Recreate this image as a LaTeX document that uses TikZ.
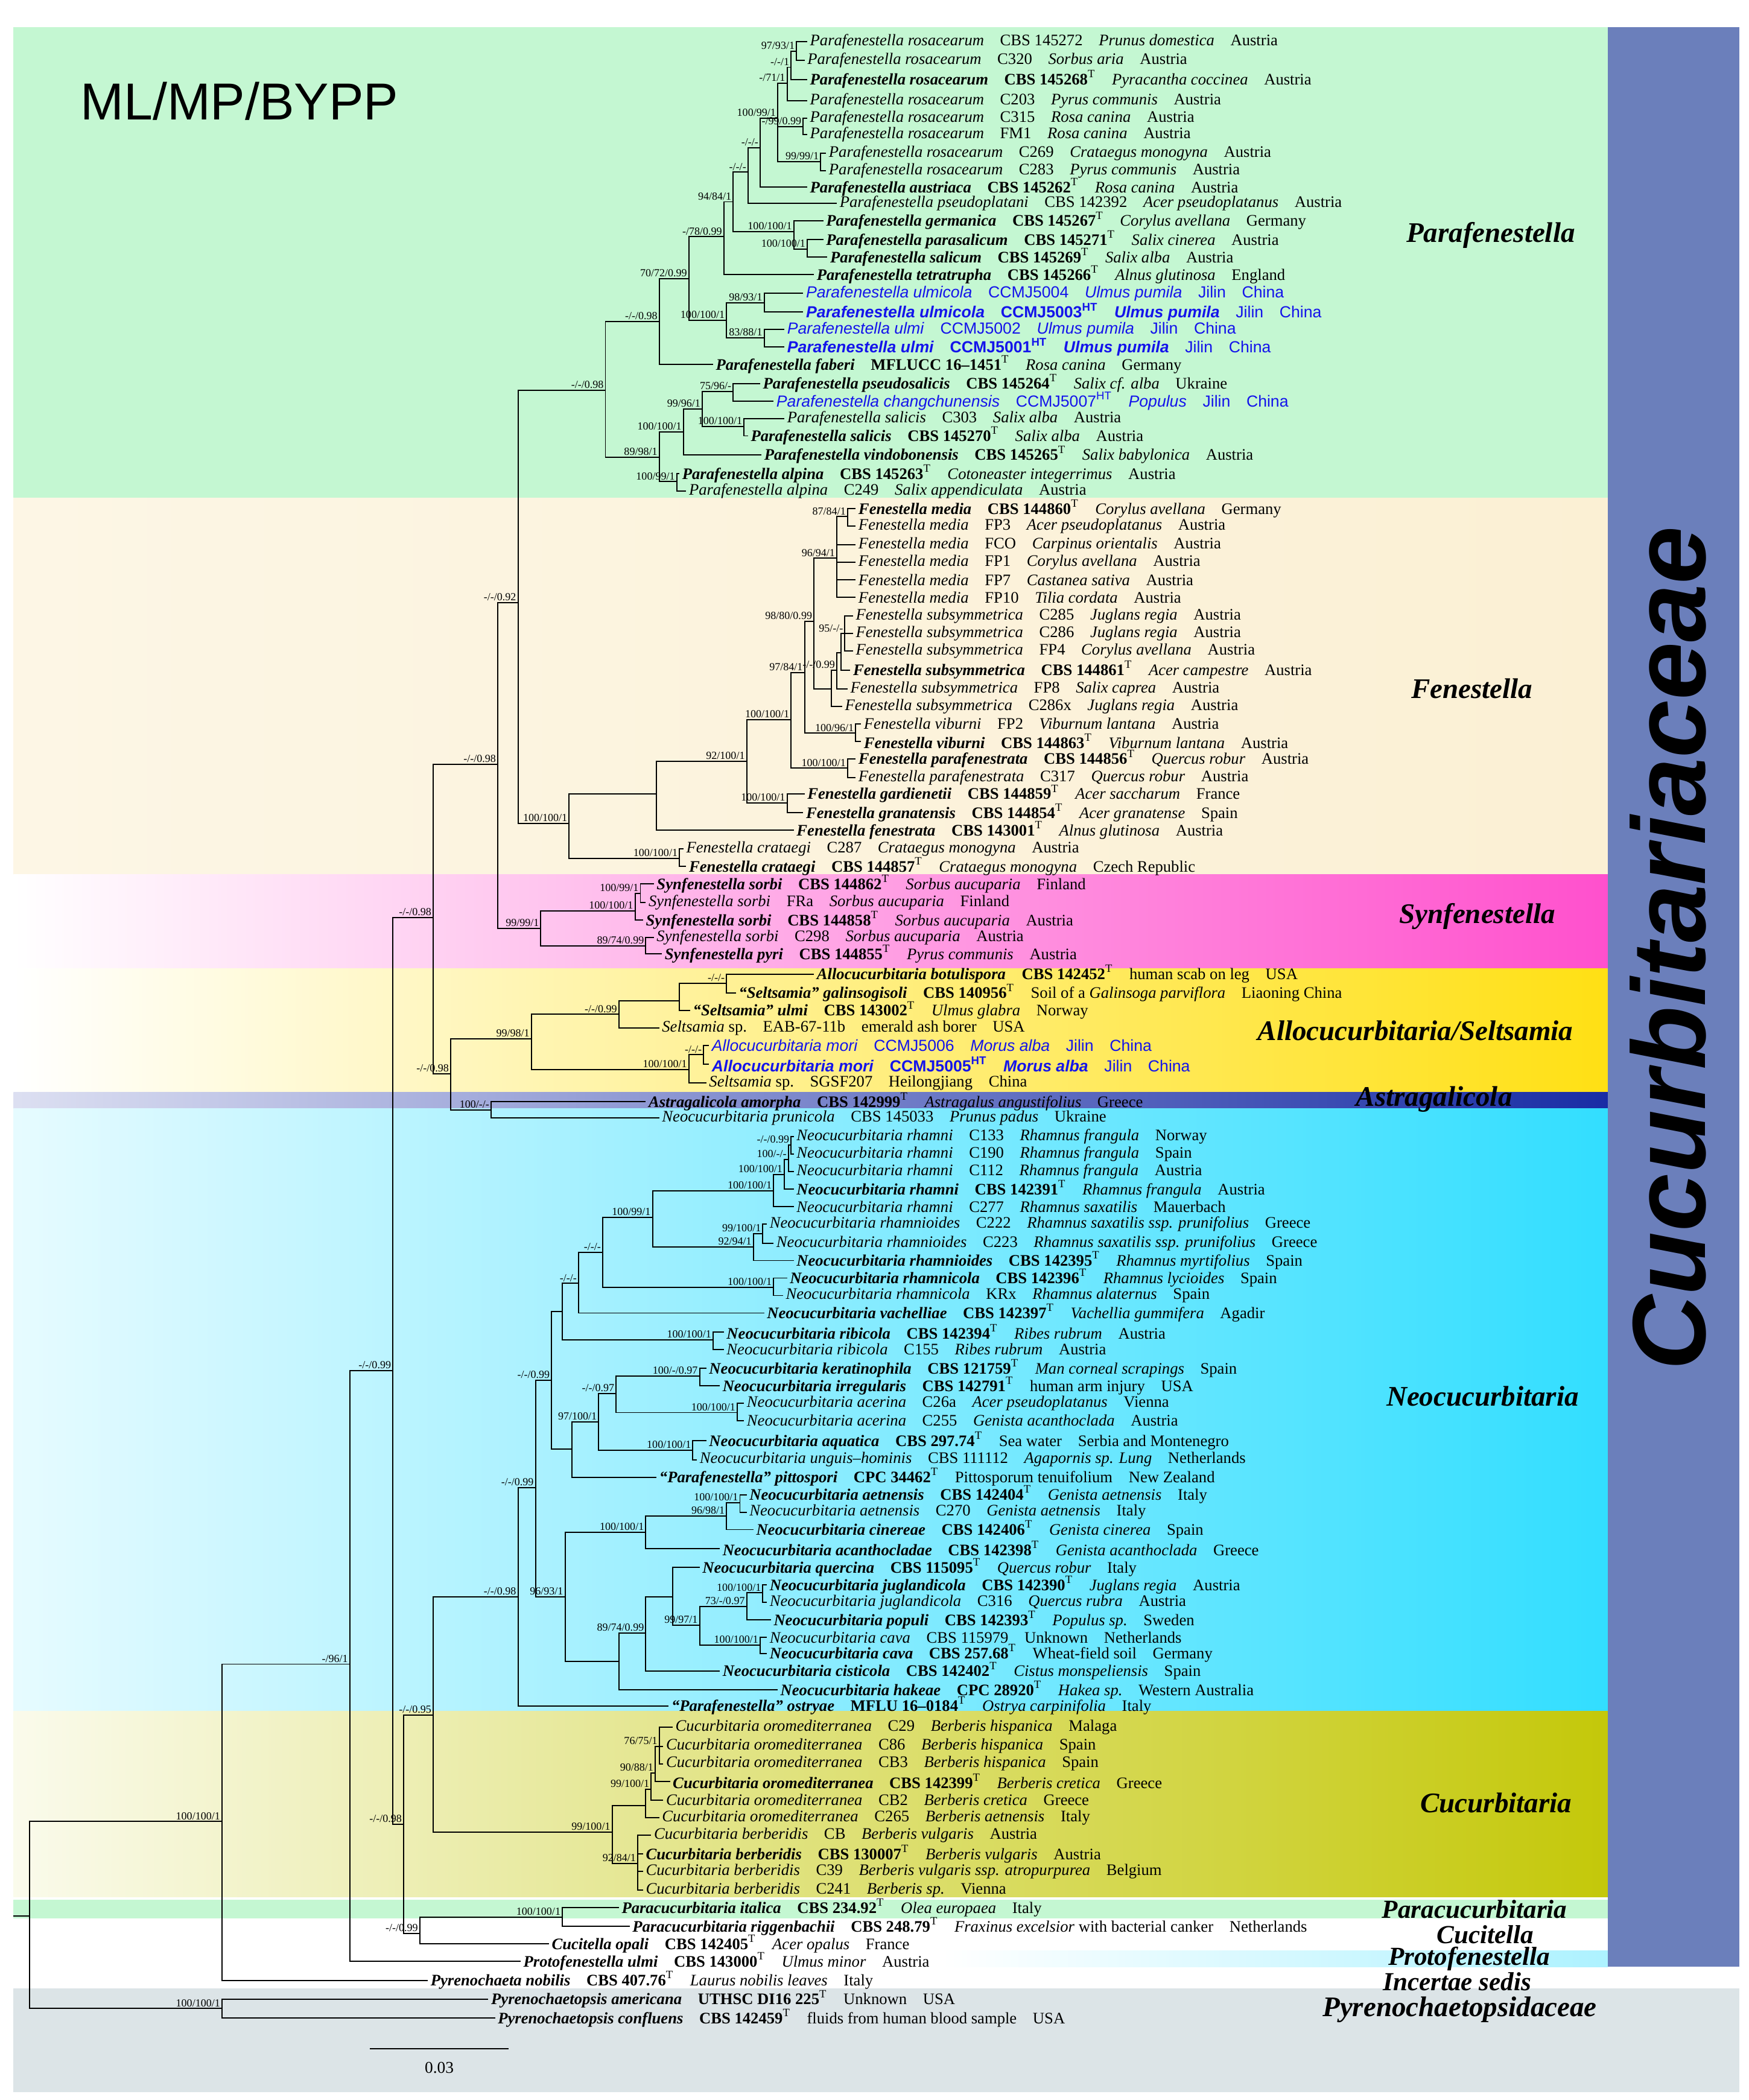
\documentclass[tikz,border=0pt]{standalone}
\usepackage{fontspec}
\setmainfont{Liberation Serif}
\setsansfont{Liberation Sans}
\usetikzlibrary{positioning}

\definecolor{clblue}{RGB}{20,20,235}
\definecolor{barblue}{RGB}{107,127,187}
\definecolor{paragreen}{RGB}{196,247,210}
\definecolor{fenbeige}{RGB}{251,240,212}
\definecolor{synpink}{RGB}{255,80,205}
\definecolor{alloyellow}{RGB}{255,224,20}
\definecolor{astblue}{RGB}{25,45,165}
\definecolor{neocyan}{RGB}{50,222,255}
\definecolor{cucolive}{RGB}{196,200,10}
\definecolor{pyrgrey}{RGB}{220,228,231}

\newcommand{\gp}{\hspace{1em}}
\newcommand{\sT}{\textsuperscript{T}}
\newcommand{\nmi}[1]{\textit{#1}}
\newcommand{\nmb}[1]{\textbf{\textit{#1}}}
\newcommand{\hst}[1]{\textit{#1}}
% normal and bold (type) leaves
\newcommand{\nl}[4]{\nmi{#1}\gp #2\gp\hst{#3}\gp #4}
\newcommand{\bl}[4]{\nmb{#1}\gp\textbf{#2}\sT\gp\hst{#3}\gp #4}
% blue leaves from this study
\newcommand{\bnl}[3]{{\sffamily\color{clblue}\nmi{#1}\gp #2\gp\hst{#3}\gp Jilin\gp China}}
\newcommand{\bbl}[3]{{\sffamily\color{clblue}\nmb{#1}\gp\textbf{#2}\textsuperscript{\textbf{HT}}\gp\nmb{#3}\gp Jilin\gp China}}
\newcommand{\lf}[4]{\coordinate (#1) at (#2,-#3); \node[leaf] (#1t) at (#1) {#4};}
\newcommand{\nd}[4]{\coordinate (#1) at (#2,-#3); \node[bsup] at (#1) {#4};}

\tikzset{
  leaf/.style={anchor=west, inner sep=1pt, font=\fontsize{6.8}{7}\selectfont},
  bsup/.style={anchor=south east, inner sep=0.6pt, font=\fontsize{4.6}{5}\selectfont},
  branch/.style={line width=0.5pt},
  clade/.style={font=\fontsize{12}{13}\selectfont\bfseries\itshape},
  sclade/.style={font=\fontsize{11}{11}\selectfont\bfseries\itshape},
}

\begin{document}
\begin{tikzpicture}[x=0.02cm, y=0.02cm]
\useasboundingbox (0,0) rectangle (1300,-1561);

% background bands
\fill[paragreen] (10,-20) rectangle (1195,-370);
\shade[left color=fenbeige!60, right color=fenbeige] (10,-370) rectangle (1195,-650);
\shade[left color=white, right color=synpink] (10,-650) rectangle (1195,-720);
\shade[left color=white, right color=alloyellow] (10,-720) rectangle (1195,-812);
\shade[left color=astblue!15, right color=astblue] (10,-812) rectangle (1195,-824);
\shade[left color=neocyan!12, right color=neocyan] (10,-824) rectangle (1195,-1272);
\shade[left color=cucolive!8, right color=cucolive] (10,-1272) rectangle (1195,-1410);
\fill[paragreen] (10,-1412) rectangle (1195,-1426);
\shade[left color=white, right color=neocyan!40] (700,-1450) rectangle (1195,-1462);
\fill[pyrgrey] (10,-1478) rectangle (1293,-1555);
\fill[barblue] (1195,-20) rectangle (1293,-1462);
\node[rotate=90, font=\fontsize{44}{44}\sffamily\bfseries\itshape] (fam) at (1240,-705) {Cucurbitariaceae};
\node[font=\fontsize{22}{22}\sffamily] (title) at (178,-75) {ML/MP/BYPP};

% leaves
\lf{l1}{600}{31}{\nl{Parafenestella rosacearum}{CBS 145272}{Prunus domestica}{Austria}}
\lf{l2}{598}{45}{\nl{Parafenestella rosacearum}{C320}{Sorbus aria}{Austria}}
\lf{l3}{600}{59}{\bl{Parafenestella rosacearum}{CBS 145268}{Pyracantha coccinea}{Austria}}
\lf{l4}{600}{75}{\nl{Parafenestella rosacearum}{C203}{Pyrus communis}{Austria}}
\lf{l5}{600}{88}{\nl{Parafenestella rosacearum}{C315}{Rosa canina}{Austria}}
\lf{l6}{600}{100}{\nl{Parafenestella rosacearum}{FM1}{Rosa canina}{Austria}}
\lf{l7}{614}{114}{\nl{Parafenestella rosacearum}{C269}{Crataegus monogyna}{Austria}}
\lf{l8}{614}{127}{\nl{Parafenestella rosacearum}{C283}{Pyrus communis}{Austria}}
\lf{l9}{600}{139}{\bl{Parafenestella austriaca}{CBS 145262}{Rosa canina}{Austria}}
\lf{l10}{622}{151}{\nl{Parafenestella pseudoplatani}{CBS 142392}{Acer pseudoplatanus}{Austria}}
\lf{l11}{612}{164}{\bl{Parafenestella germanica}{CBS 145267}{Corylus avellana}{Germany}}
\lf{l12}{612}{178}{\bl{Parafenestella parasalicum}{CBS 145271}{Salix cinerea}{Austria}}
\lf{l13}{615}{191}{\bl{Parafenestella salicum}{CBS 145269}{Salix alba}{Austria}}
\lf{l14}{605}{204}{\bl{Parafenestella tetratrupha}{CBS 145266}{Alnus glutinosa}{England}}
\lf{l15}{597}{218}{\bnl{Parafenestella ulmicola}{CCMJ5004}{Ulmus pumila}}
\lf{l16}{597}{232}{\bbl{Parafenestella ulmicola}{CCMJ5003}{Ulmus pumila}}
\lf{l17}{583}{245}{\bnl{Parafenestella ulmi}{CCMJ5002}{Ulmus pumila}}
\lf{l18}{583}{258}{\bbl{Parafenestella ulmi}{CCMJ5001}{Ulmus pumila}}
\lf{l19}{530}{271}{\bl{Parafenestella faberi}{MFLUCC 16--1451}{Rosa canina}{Germany}}
\lf{l20}{565}{285}{\bl{Parafenestella pseudosalicis}{CBS 145264}{Salix cf. alba}{Ukraine}}
\lf{l21}{575}{298}{\bnl{Parafenestella changchunensis}{CCMJ5007\textsuperscript{HT}}{Populus}}
\lf{l22}{583}{311}{\nl{Parafenestella salicis}{C303}{Salix alba}{Austria}}
\lf{l23}{556}{324}{\bl{Parafenestella salicis}{CBS 145270}{Salix alba}{Austria}}
\lf{l24}{566}{338}{\bl{Parafenestella vindobonensis}{CBS 145265}{Salix babylonica}{Austria}}
\lf{l25}{505}{352}{\bl{Parafenestella alpina}{CBS 145263}{Cotoneaster integerrimus}{Austria}}
\lf{l26}{510}{365}{\nl{Parafenestella alpina}{C249}{Salix appendiculata}{Austria}}
\lf{l27}{636}{378}{\bl{Fenestella media}{CBS 144860}{Corylus avellana}{Germany}}
\lf{l28}{636}{391}{\nl{Fenestella media}{FP3}{Acer pseudoplatanus}{Austria}}
\lf{l29}{636}{405}{\nl{Fenestella media}{FCO}{Carpinus orientalis}{Austria}}
\lf{l30}{636}{418}{\nl{Fenestella media}{FP1}{Corylus avellana}{Austria}}
\lf{l31}{636}{431}{\nl{Fenestella media}{FP7}{Castanea sativa}{Austria}}
\lf{l32}{636}{444}{\nl{Fenestella media}{FP10}{Tilia cordata}{Austria}}
\lf{l33}{634}{458}{\nl{Fenestella subsymmetrica}{C285}{Juglans regia}{Austria}}
\lf{l34}{634}{471}{\nl{Fenestella subsymmetrica}{C286}{Juglans regia}{Austria}}
\lf{l35}{634}{484}{\nl{Fenestella subsymmetrica}{FP4}{Corylus avellana}{Austria}}
\lf{l36}{632}{498}{\bl{Fenestella subsymmetrica}{CBS 144861}{Acer campestre}{Austria}}
\lf{l37}{630}{512}{\nl{Fenestella subsymmetrica}{FP8}{Salix caprea}{Austria}}
\lf{l38}{626}{525}{\nl{Fenestella subsymmetrica}{C286x}{Juglans regia}{Austria}}
\lf{l39}{640}{538}{\nl{Fenestella viburni}{FP2}{Viburnum lantana}{Austria}}
\lf{l40}{640}{551}{\bl{Fenestella viburni}{CBS 144863}{Viburnum lantana}{Austria}}
\lf{l41}{636}{564}{\bl{Fenestella parafenestrata}{CBS 144856}{Quercus robur}{Austria}}
\lf{l42}{636}{578}{\nl{Fenestella parafenestrata}{C317}{Quercus robur}{Austria}}
\lf{l43}{598}{590}{\bl{Fenestella gardienetii}{CBS 144859}{Acer saccharum}{France}}
\lf{l44}{597}{604}{\bl{Fenestella granatensis}{CBS 144854}{Acer granatense}{Spain}}
\lf{l45}{590}{617}{\bl{Fenestella fenestrata}{CBS 143001}{Alnus glutinosa}{Austria}}
\lf{l46}{508}{631}{\nl{Fenestella crataegi}{C287}{Crataegus monogyna}{Austria}}
\lf{l47}{510}{644}{\bl{Fenestella crataegi}{CBS 144857}{Crataegus monogyna}{Czech Republic}}
\lf{l48}{486}{657}{\bl{Synfenestella sorbi}{CBS 144862}{Sorbus aucuparia}{Finland}}
\lf{l49}{480}{671}{\nl{Synfenestella sorbi}{FRa}{Sorbus aucuparia}{Finland}}
\lf{l50}{478}{684}{\bl{Synfenestella sorbi}{CBS 144858}{Sorbus aucuparia}{Austria}}
\lf{l51}{486}{697}{\nl{Synfenestella sorbi}{C298}{Sorbus aucuparia}{Austria}}
\lf{l52}{492}{709}{\bl{Synfenestella pyri}{CBS 144855}{Pyrus communis}{Austria}}
\lf{l53}{605}{724}{\bl{Allocucurbitaria botulispora}{CBS 142452}{\textup{human scab on leg}}{USA}}
\lf{l54}{547}{738}{\bl{``Seltsamia'' galinsogisoli}{CBS 140956}{\textup{Soil of a} Galinsoga parviflora}{Liaoning China}}
\lf{l55}{513}{751}{\bl{``Seltsamia'' ulmi}{CBS 143002}{Ulmus glabra}{Norway}}
\lf{l56}{490}{764}{\nmi{Seltsamia} sp.\gp EAB-67-11b\gp emerald ash borer\gp USA}
\lf{l57}{527}{777}{\bnl{Allocucurbitaria mori}{CCMJ5006}{Morus alba}}
\lf{l58}{527}{791}{\bbl{Allocucurbitaria mori}{CCMJ5005}{Morus alba}}
\lf{l59}{525}{805}{\nmi{Seltsamia} sp.\gp SGSF207\gp Heilongjiang\gp China}
\lf{l60}{480}{819}{\bl{Astragalicola amorpha}{CBS 142999}{Astragalus angustifolius}{Greece}}
\lf{l61}{490}{831}{\nl{Neocucurbitaria prunicola}{CBS 145033}{Prunus padus}{Ukraine}}
\lf{l62}{590}{845}{\nl{Neocucurbitaria rhamni}{C133}{Rhamnus frangula}{Norway}}
\lf{l63}{590}{858}{\nl{Neocucurbitaria rhamni}{C190}{Rhamnus frangula}{Spain}}
\lf{l64}{590}{871}{\nl{Neocucurbitaria rhamni}{C112}{Rhamnus frangula}{Austria}}
\lf{l65}{590}{884}{\bl{Neocucurbitaria rhamni}{CBS 142391}{Rhamnus frangula}{Austria}}
\lf{l66}{590}{897}{\nl{Neocucurbitaria rhamni}{C277}{Rhamnus saxatilis}{Mauerbach}}
\lf{l67}{570}{910}{\nl{Neocucurbitaria rhamnioides}{C222}{Rhamnus saxatilis ssp. prunifolius}{Greece}}
\lf{l68}{575}{924}{\nl{Neocucurbitaria rhamnioides}{C223}{Rhamnus saxatilis ssp. prunifolius}{Greece}}
\lf{l69}{590}{937}{\bl{Neocucurbitaria rhamnioides}{CBS 142395}{Rhamnus myrtifolius}{Spain}}
\lf{l70}{585}{950}{\bl{Neocucurbitaria rhamnicola}{CBS 142396}{Rhamnus lycioides}{Spain}}
\lf{l71}{582}{963}{\nl{Neocucurbitaria rhamnicola}{KRx}{Rhamnus alaternus}{Spain}}
\lf{l72}{568}{976}{\bl{Neocucurbitaria vachelliae}{CBS 142397}{Vachellia gummifera}{Agadir}}
\lf{l73}{538}{990}{\bl{Neocucurbitaria ribicola}{CBS 142394}{Ribes rubrum}{Austria}}
\lf{l74}{538}{1003}{\nl{Neocucurbitaria ribicola}{C155}{Ribes rubrum}{Austria}}
\lf{l75}{525}{1017}{\bl{Neocucurbitaria keratinophila}{CBS 121759}{Man corneal scrapings}{Spain}}
\lf{l76}{535}{1030}{\bl{Neocucurbitaria irregularis}{CBS 142791}{\textup{human arm injury}}{USA}}
\lf{l77}{553}{1043}{\nl{Neocucurbitaria acerina}{C26a}{Acer pseudoplatanus}{Vienna}}
\lf{l78}{553}{1056}{\nl{Neocucurbitaria acerina}{C255}{Genista acanthoclada}{Austria}}
\lf{l79}{525}{1071}{\bl{Neocucurbitaria aquatica}{CBS 297.74}{\textup{Sea water}}{Serbia and Montenegro}}
\lf{l80}{518}{1085}{\nl{Neocucurbitaria unguis--hominis}{CBS 111112}{Agapornis sp. Lung}{Netherlands}}
\lf{l81}{488}{1098}{\bl{``Parafenestella'' pittospori}{CPC 34462}{\textup{Pittosporum tenuifolium}}{New Zealand}}
\lf{l82}{555}{1111}{\bl{Neocucurbitaria aetnensis}{CBS 142404}{Genista aetnensis}{Italy}}
\lf{l83}{555}{1124}{\nl{Neocucurbitaria aetnensis}{C270}{Genista aetnensis}{Italy}}
\lf{l84}{560}{1137}{\bl{Neocucurbitaria cinereae}{CBS 142406}{Genista cinerea}{Spain}}
\lf{l85}{535}{1151}{\bl{Neocucurbitaria acanthocladae}{CBS 142398}{Genista acanthoclada}{Greece}}
\lf{l86}{520}{1165}{\bl{Neocucurbitaria quercina}{CBS 115095}{Quercus robur}{Italy}}
\lf{l87}{570}{1178}{\bl{Neocucurbitaria juglandicola}{CBS 142390}{Juglans regia}{Austria}}
\lf{l88}{570}{1191}{\nl{Neocucurbitaria juglandicola}{C316}{Quercus rubra}{Austria}}
\lf{l89}{573}{1204}{\bl{Neocucurbitaria populi}{CBS 142393}{Populus sp.}{Sweden}}
\lf{l90}{570}{1217}{\nl{Neocucurbitaria cava}{CBS 115979}{\textup{Unknown}}{Netherlands}}
\lf{l91}{570}{1229}{\bl{Neocucurbitaria cava}{CBS 257.68}{\textup{Wheat-field soil}}{Germany}}
\lf{l92}{535}{1242}{\bl{Neocucurbitaria cisticola}{CBS 142402}{Cistus monspeliensis}{Spain}}
\lf{l93}{578}{1256}{\bl{Neocucurbitaria hakeae}{CPC 28920}{Hakea sp.}{Western Australia}}
\lf{l94}{497}{1268}{\bl{``Parafenestella'' ostryae}{MFLU 16--0184}{Ostrya carpinifolia}{Italy}}
\lf{l95}{500}{1284}{\nl{Cucurbitaria oromediterranea}{C29}{Berberis hispanica}{Malaga}}
\lf{l96}{493}{1298}{\nl{Cucurbitaria oromediterranea}{C86}{Berberis hispanica}{Spain}}
\lf{l97}{493}{1311}{\nl{Cucurbitaria oromediterranea}{CB3}{Berberis hispanica}{Spain}}
\lf{l98}{498}{1324}{\bl{Cucurbitaria oromediterranea}{CBS 142399}{Berberis cretica}{Greece}}
\lf{l99}{493}{1338}{\nl{Cucurbitaria oromediterranea}{CB2}{Berberis cretica}{Greece}}
\lf{l100}{490}{1351}{\nl{Cucurbitaria oromediterranea}{C265}{Berberis aetnensis}{Italy}}
\lf{l101}{484}{1364}{\nl{Cucurbitaria berberidis}{CB}{Berberis vulgaris}{Austria}}
\lf{l102}{478}{1378}{\bl{Cucurbitaria berberidis}{CBS 130007}{Berberis vulgaris}{Austria}}
\lf{l103}{478}{1391}{\nl{Cucurbitaria berberidis}{C39}{Berberis vulgaris ssp. atropurpurea}{Belgium}}
\lf{l104}{478}{1405}{\nl{Cucurbitaria berberidis}{C241}{Berberis sp.}{Vienna}}
\lf{l105}{460}{1418}{\bl{Paracucurbitaria italica}{CBS 234.92}{Olea europaea}{Italy}}
\lf{l106}{468}{1432}{\bl{Paracucurbitaria riggenbachii}{CBS 248.79}{Fraxinus excelsior \textup{with bacterial canker}}{Netherlands}}
\lf{l107}{408}{1445}{\bl{Cucitella opali}{CBS 142405}{Acer opalus}{France}}
\lf{l108}{387}{1458}{\bl{Protofenestella ulmi}{CBS 143000}{Ulmus minor}{Austria}}
\lf{l109}{318}{1472}{\bl{Pyrenochaeta nobilis}{CBS 407.76}{Laurus nobilis leaves}{Italy}}
\lf{l110}{363}{1486}{\bl{Pyrenochaetopsis americana}{UTHSC DI16 225}{\textup{Unknown}}{USA}}
\lf{l111}{368}{1500}{\bl{Pyrenochaetopsis confluens}{CBS 142459}{\textup{fluids from human blood sample}}{USA}}

% internal nodes
\nd{pr1}{592}{38}{97/93/1}
\nd{pr2}{588}{50}{-/-/1}
\nd{pr3}{585}{62}{-/71/1}
\nd{pr4}{597}{94}{-/99/0.99}
\nd{pr5}{610}{120}{99/99/1}
\nd{pr6}{578}{88}{100/99/1}
\nd{pr7}{565}{110}{-/-/-}
\nd{pr8}{556}{128}{-/-/-}
\nd{ps1}{600}{185}{100/100/1}
\nd{ps2}{590}{172}{100/100/1}
\nd{ps3}{545}{150}{94/84/1}
\nd{ps4}{538}{176}{-/78/0.99}
\nd{u1}{568}{225}{98/93/1}
\nd{u2}{568}{251}{83/88/1}
\nd{u3}{540}{238}{100/100/1}
\nd{u4}{512}{207}{70/72/0.99}
\nd{u5}{490}{239}{-/-/0.98}
\nd{s1}{545}{291}{75/96/-}
\nd{s2}{553}{317}{100/100/1}
\nd{s3}{522}{304}{99/96/1}
\nd{s4}{508}{321}{100/100/1}
\nd{a1}{503}{358}{100/99/1}
\nd{s5}{490}{340}{89/98/1}
\nd{P}{450}{290}{-/-/0.98}
\nd{m0}{630}{384}{87/84/1}
\nd{m1}{622}{415}{96/94/1}
\nd{sb1}{628}{471}{95/-/-}
\nd{sb2}{625}{485}{}
\nd{sb3}{622}{498}{-/-/0.99}
\nd{sb4}{618}{512}{}
\nd{f1}{605}{462}{98/80/0.99}
\nd{v1}{636}{545}{100/96/1}
\nd{f2}{598}{500}{97/84/1}
\nd{pf1}{630}{571}{100/100/1}
\nd{f3}{588}{535}{100/100/1}
\nd{g1}{585}{597}{100/100/1}
\nd{f4}{555}{566}{92/100/1}
\nd{f5}{488}{590}{}
\nd{cr1}{505}{638}{100/100/1}
\nd{f6}{423}{612}{100/100/1}
\nd{PF}{385}{448}{-/-/0.92}
\nd{sy1}{476}{664}{100/99/1}
\nd{sy2}{472}{677}{100/100/1}
\nd{sy3}{480}{703}{89/74/0.99}
\nd{sy4}{402}{690}{99/99/1}
\nd{PFS}{370}{568}{-/-/0.98}
\nd{se1}{540}{731}{-/-/-}
\nd{se2}{505}{744}{}
\nd{se3}{460}{754}{-/-/0.99}
\nd{al1}{523}{784}{-/-/-}
\nd{al2}{512}{795}{100/100/1}
\nd{al3}{395}{772}{99/98/1}
\nd{ast}{365}{825}{100/-/-}
\nd{AA}{335}{798}{-/-/0.98}
\nd{D}{322}{682}{-/-/0.98}
\nd{rh1}{588}{851}{-/-/0.99}
\nd{rh2}{586}{862}{100/-/-}
\nd{rh3}{583}{873}{100/100/1}
\nd{rh4}{575}{885}{100/100/1}
\nd{rd1}{567}{917}{99/100/1}
\nd{rd2}{560}{927}{92/94/1}
\nd{rc1}{575}{957}{100/100/1}
\nd{rr1}{485}{905}{100/99/1}
\nd{rr2}{448}{931}{-/-/-}
\nd{rr3}{430}{954}{-/-/-}
\nd{rb1}{530}{996}{100/100/1}
\nd{rr4}{418}{975}{}
\nd{k1}{520}{1023}{100/-/0.97}
\nd{ac1}{548}{1050}{100/100/1}
\nd{k2}{458}{1036}{-/-/0.97}
\nd{aq1}{515}{1078}{100/100/1}
\nd{k3}{445}{1057}{97/100/1}
\nd{k4}{425}{1077}{}
\nd{nA}{410}{1026}{-/-/0.99}
\nd{ae1}{550}{1117}{100/100/1}
\nd{ae2}{540}{1127}{96/98/1}
\nd{ae3}{480}{1139}{100/100/1}
\nd{jg1}{567}{1184}{100/100/1}
\nd{po1}{555}{1194}{73/-/0.97}
\nd{cv1}{565}{1223}{100/100/1}
\nd{pc1}{520}{1208}{99/97/1}
\nd{q1}{500}{1187}{}
\nd{ci1}{480}{1214}{89/74/0.99}
\nd{hk1}{460}{1235}{}
\nd{nB}{420}{1187}{96/93/1}
\nd{nC}{398}{1106}{-/-/0.99}
\nd{Neo}{385}{1187}{-/-/0.98}
\nd{co1}{490}{1298}{76/75/1}
\nd{co2}{487}{1318}{90/88/1}
\nd{co3}{484}{1330}{99/100/1}
\nd{co4}{480}{1342}{}
\nd{cb1}{474}{1385}{92/84/1}
\nd{cu}{455}{1362}{99/100/1}
\nd{H}{322}{1275}{-/-/0.95}
\nd{pa}{418}{1425}{100/100/1}
\nd{G}{312}{1437}{-/-/0.99}
\nd{E}{300}{1356}{-/-/0.98}
\nd{C}{292}{1019}{-/-/0.99}
\nd{B}{260}{1237}{-/96/1}
\nd{A}{165}{1354}{100/100/1}
\nd{Py}{165}{1493}{100/100/1}
\nd{R}{22}{1424}{}

% branches
\foreach \p/\c in {pr1/l1,pr1/l2,pr2/pr1,pr2/l3,pr3/pr2,pr3/l4,pr4/l5,pr4/l6,pr5/l7,pr5/l8,
  pr6/pr3,pr6/pr4,pr6/pr5,pr7/pr6,pr7/l9,pr8/pr7,pr8/l10,ps1/l12,ps1/l13,ps2/l11,ps2/ps1,
  ps3/pr8,ps3/ps2,ps4/ps3,ps4/l14,u1/l15,u1/l16,u2/l17,u2/l18,u3/u1,u3/u2,u4/ps4,u4/u3,
  u5/u4,u5/l19,s1/l20,s1/l21,s2/l22,s2/l23,s3/s1,s3/s2,s4/s3,s4/l24,a1/l25,a1/l26,s5/s4,s5/a1,
  P/u5,P/s5,m0/l27,m0/l28,m1/m0,m1/l29,m1/l30,m1/l31,m1/l32,sb1/l33,sb1/l34,sb1/l35,
  sb2/sb1,sb2/l36,sb3/sb2,sb3/l37,sb4/sb3,sb4/l38,f1/m1,f1/sb4,v1/l39,v1/l40,f2/f1,f2/v1,
  pf1/l41,pf1/l42,f3/f2,f3/pf1,g1/l43,g1/l44,f4/f3,f4/g1,f5/f4,f5/l45,cr1/l46,cr1/l47,
  f6/f5,f6/cr1,PF/P,PF/f6,sy1/l48,sy1/l49,sy2/sy1,sy2/l50,sy3/l51,sy3/l52,sy4/sy2,sy4/sy3,
  PFS/PF,PFS/sy4,se1/l53,se1/l54,se2/se1,se2/l55,se3/se2,se3/l56,al1/l57,al1/l58,al2/al1,
  al2/l59,al3/se3,al3/al2,ast/l60,ast/l61,AA/al3,AA/ast,D/PFS,D/AA,
  rh1/l62,rh1/l63,rh2/rh1,rh2/l64,rh3/rh2,rh3/l65,rh4/rh3,rh4/l66,rd1/l67,rd1/l68,rd2/rd1,
  rd2/l69,rc1/l70,rc1/l71,rr1/rh4,rr1/rd2,rr2/rr1,rr2/rc1,rr3/rr2,rr3/l72,rb1/l73,rb1/l74,
  rr4/rr3,rr4/rb1,k1/l75,k1/l76,ac1/l77,ac1/l78,k2/k1,k2/ac1,aq1/l79,aq1/l80,k3/k2,k3/aq1,
  k4/k3,k4/l81,nA/rr4,nA/k4,ae1/l82,ae1/l83,ae2/ae1,ae2/l84,ae3/ae2,ae3/l85,jg1/l87,jg1/l88,
  po1/jg1,po1/l89,cv1/l90,cv1/l91,pc1/po1,pc1/cv1,q1/l86,q1/pc1,ci1/q1,ci1/l92,hk1/ci1,
  hk1/l93,nB/ae3,nB/hk1,nC/nA,nC/nB,Neo/nC,Neo/l94,
  co1/l95,co1/l96,co1/l97,co2/co1,co2/l98,co3/co2,co3/l99,co4/co3,co4/l100,
  cb1/l101,cb1/l102,cb1/l103,cb1/l104,cu/co4,cu/cb1,H/Neo,H/cu,pa/l105,pa/l106,
  G/pa,G/l107,E/H,E/G,C/D,C/E,B/C,B/l108,A/B,A/l109,Py/l110,Py/l111,R/A,R/Py}
  \draw[branch] (\p) |- (\c);
\coordinate (r0) at (10,-1424);
\draw[branch] (r0) -- (R);

% clade names
\node[clade] (nPara) at (1108,-175) {Parafenestella};
\node[clade] (nFen) at (1094,-512) {Fenestella};
\node[clade] (nSyn) at (1098,-681) {Synfenestella};
\node[clade] (nAllo) at (1052,-766) {Allocucurbitaria/Seltsamia};
\node[clade] (nAst) at (1066,-817) {Astragalicola};
\node[clade] (nNeo) at (1102,-1038) {Neocucurbitaria};
\node[clade] (nCuc) at (1112,-1340) {Cucurbitaria};
\node[sclade] (nParac) at (1096,-1419) {Paracucurbitaria};
\node[sclade] (nCuci) at (1104,-1438) {Cucitella};
\node[sclade] (nProto) at (1092,-1456) {Protofenestella};
\node[sclade] (nInc) at (1083,-1473) {Incertae sedis};
\node[clade] (nPyr) at (1085,-1494) {Pyrenochaetopsidaceae};

% scale bar
\coordinate (sb0) at (275,-1523);
\coordinate (sb1) at (378,-1523);
\draw[branch] (sb0) -- (sb1) node[midway, below=2pt, font=\fontsize{7}{8}\selectfont] {0.03};
\end{tikzpicture}
\end{document}
